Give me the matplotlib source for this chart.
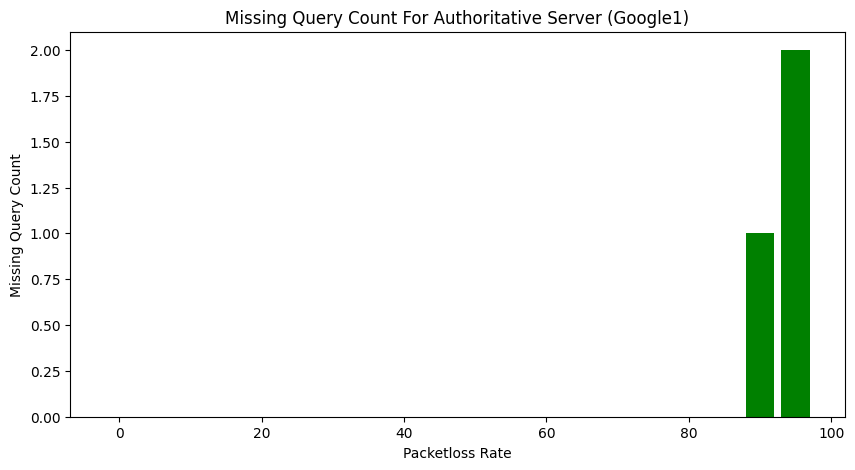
import matplotlib
matplotlib.use("Agg")
import matplotlib.pyplot as plt

# packet loss rates tested and the missing query count at each
packetloss_rates = [0, 5, 10, 15, 20, 25, 30, 35, 40, 45,
                    50, 55, 60, 65, 70, 75, 80, 85, 90, 95]
missing_counts = [0, 0, 0, 0, 0, 0, 0, 0, 0, 0,
                  0, 0, 0, 0, 0, 0, 0, 0, 1, 2]

plt.figure(figsize=(10, 5))
plt.bar(packetloss_rates, missing_counts, width=4, color='green')
plt.xlabel('Packetloss Rate')
plt.ylabel('Missing Query Count')
plt.title('Missing Query Count For Authoritative Server (Google1)')
plt.savefig('out.png', dpi=100, bbox_inches='tight')
